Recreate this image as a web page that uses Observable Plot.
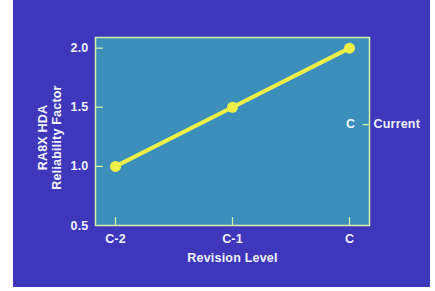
<!DOCTYPE html>
<html>
<head>
<meta charset="utf-8">
<script src="https://cdn.jsdelivr.net/npm/d3@7"></script>
<script src="https://cdn.jsdelivr.net/npm/@observablehq/plot@0.6"></script>
<style>
  html, body { margin: 0; padding: 0; background: #ffffff; }
  #wrap { position: relative; width: 435px; height: 291px; }
  #bg { position: absolute; left: 13px; top: 0; width: 417px; height: 287px; background: #3f37bb; }
  #chart { position: absolute; left: 0; top: 0; }
</style>
</head>
<body>
<div id="wrap"><div id="bg"></div><div id="chart"></div></div>
<script>
const revisions = ["C-2", "C-1", "C"];
const reliability = [1.0, 1.5, 2.0];
const yTicks = [0.5, 1.0, 1.5, 2.0];
const yTickMarks = [1.0, 1.5, 2.0];
const annotationRevision = "C";
const annotationValue = 1.36;
const annotationText = "Current";
const xTitle = "Revision Level";
const yTitleLines = ["RA8X HDA", "Reliability Factor"];

const data = revisions.map((r, i) => ({ rev: r, value: reliability[i] }));

const font = "'Liberation Sans', Arial, Helvetica, sans-serif";
const textColor = "#f2f2ff";
const frameColor = "#d8f0a8";
const yellow = "#eef04a";
const fs = 12.5;

const chart = Plot.plot({
  width: 435,
  height: 291,
  marginLeft: 95,
  marginRight: 66,
  marginTop: 37,
  marginBottom: 66,
  style: { background: "transparent", fontFamily: font, fontWeight: "bold", fontSize: fs + "px", letterSpacing: "0.2px" },
  x: { type: "point", domain: revisions, padding: 0.17 },
  y: { domain: [0.5, 2.09] },
  marks: [
    Plot.frame({ fill: "#3b8fba", stroke: frameColor, strokeWidth: 1.5 }),
    // inward tick marks
    Plot.axisY({ ticks: yTickMarks, tickSize: 8, dx: 8, stroke: frameColor, strokeWidth: 1.2, fill: "none", label: null }),
    Plot.axisX({ tickSize: 8, dy: -8, stroke: frameColor, strokeWidth: 1.2, fill: "none", label: null }),
    // tick labels
    Plot.axisY({ ticks: yTicks, tickSize: 0, tickPadding: 7, tickFormat: d3.format(".1f"), fill: textColor, fontSize: fs, fontWeight: "bold", label: null }),
    Plot.axisX({ tickSize: 0, tickPadding: 9, fill: textColor, fontSize: fs, fontWeight: "bold", label: null }),
    Plot.text([xTitle], { frameAnchor: "bottom", dy: 36, fill: textColor, fontSize: fs, fontWeight: "bold" }),
    Plot.text([yTitleLines[0]], { frameAnchor: "left", textAnchor: "middle", dx: -53, dy: 6, rotate: -90, fill: textColor, fontSize: fs, fontWeight: "bold" }),
    Plot.text([yTitleLines[1]], { frameAnchor: "left", textAnchor: "middle", dx: -39, dy: 6, rotate: -90, fill: textColor, fontSize: fs, fontWeight: "bold" }),
    Plot.line(data, { x: "rev", y: "value", stroke: yellow, strokeWidth: 4 }),
    Plot.dot(data, { x: "rev", y: "value", r: 5.5, fill: yellow }),
    Plot.text([annotationValue], { x: () => annotationRevision, y: d => d, text: () => annotationRevision, dx: 1, fill: textColor, fontSize: fs, fontWeight: "bold" }),
    Plot.text([annotationValue], { x: () => annotationRevision, y: d => d, text: () => "–", dx: 16, fill: frameColor, fontSize: fs, fontWeight: "bold" }),
    Plot.text([annotationValue], { x: () => annotationRevision, y: d => d, text: () => annotationText, dx: 24, textAnchor: "start", fill: textColor, fontSize: fs, fontWeight: "bold" })
  ]
});
document.getElementById("chart").appendChild(chart);
</script>
</body>
</html>
